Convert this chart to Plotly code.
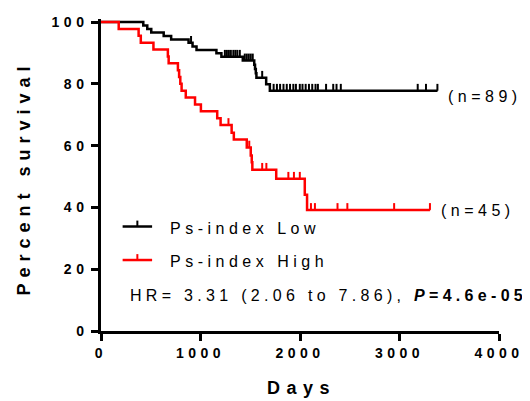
import plotly.graph_objects as go
import numpy as np

# ---------------- data ----------------
low_step_days = [0, 425, 465, 505, 630, 705, 880, 920, 960, 1160, 1210, 1425,
                 1540, 1548, 1556, 1562, 1660, 1697]
low_step_surv = [100, 98.9, 97.8, 96.6, 95.5, 94.4, 93.3, 92.1, 91.0, 89.9, 88.8, 87.6,
                 86.2, 84.8, 83.4, 82.0, 79.9, 77.8]
low_cens_days = [905, 1245, 1265, 1285, 1305, 1330, 1350, 1370, 1395,
                 1445, 1465, 1485, 1505, 1525, 1620,
                 1735, 1768, 1800, 1834, 1867, 1900, 1933, 1959, 1998, 2025, 2057,
                 2090, 2123, 2156, 2180, 2262, 2334, 2367, 2410, 3183, 3266, 3381]

high_step_days = [0, 178, 378, 400, 527, 672, 680, 773, 785, 797, 810, 852, 945,
                  1004, 1168, 1202, 1313, 1335, 1465, 1505, 1515, 1521, 1761, 2048, 2071]
high_step_surv = [100, 97.8, 95.6, 93.3, 91.1, 88.9, 86.7, 84.4, 82.2, 80.0, 77.8, 75.6, 73.3,
                  71.1, 68.9, 66.7, 64.2, 62.0, 59.4, 56.8, 54.6, 52.2, 49.3, 44.1, 39.2]
high_cens_days = [1281, 1490, 1620, 1662, 1883, 1939, 1998, 2110, 2150, 2377, 2476, 2946, 3306]

x_ticks = [0, 1000, 2000, 3000, 4000]
y_ticks = [0, 20, 40, 60, 80, 100]

names = ["Ps-index Low", "Ps-index High"]
n_labels = ["(n=89)", "(n=45)"]
hr_text = "HR= 3.31 (2.06 to 7.86), "
p_text = "=4.6e-05"

# ---------------- layout geometry ----------------
OFF = 8  # page body margin of the browser
FW, FH = 530 - OFF, 401 - OFF
L, R, B, T = 101 - OFF, 24, 70, 14.5 - OFF
PW, PH = FW - L - R, FH - T - B
FONT = "Liberation Sans, Arial, sans-serif"


def px_x(px):  # page pixel -> paper
    return (px - OFF - L) / PW


def px_y(py):
    return (FH - B - (py - OFF)) / PH


def spaced(txt, sp):
    return f'<span style="letter-spacing:{sp}px">{txt}</span>'


def step_at(days, surv, t):
    idx = np.searchsorted(np.asarray(days), t, side="right") - 1
    return float(np.asarray(surv)[idx])


fig = go.Figure()

series = [
    (low_step_days, low_step_surv, low_cens_days, "#000000"),
    (high_step_days, high_step_surv, high_cens_days, "#FF0000"),
]
for days, surv, cens, col in series:
    end = max(cens)
    xs = list(days) + [end]
    ys = list(surv) + [surv[-1]]
    fig.add_trace(go.Scatter(x=xs, y=ys, mode="lines", line=dict(color=col, width=2.5, shape="hv"),
                             showlegend=False, hoverinfo="skip"))
    cy = [step_at(days, surv, t) for t in cens]
    fig.add_trace(go.Scatter(x=cens, y=cy, mode="markers", marker=dict(size=1, color=col),
                             error_y=dict(type="data", symmetric=False, array=[2.2] * len(cens),
                                          arrayminus=[0] * len(cens), width=0, thickness=2, color=col),
                             showlegend=False, hoverinfo="skip"))

tickfont = dict(family=FONT, size=14, color="black")
fig.update_xaxes(range=[0, 4000], tickvals=x_ticks,
                 ticktext=[spaced(f"<b>{v}</b>", 4.5) for v in x_ticks],
                 ticklabeloverflow="allow",
                 showgrid=False, zeroline=False, showline=True, linecolor="black", linewidth=2.5,
                 ticks="outside", ticklen=7, tickwidth=2.5, tickcolor="black", tickfont=tickfont)
fig.update_yaxes(range=[0, 101], tickvals=y_ticks,
                 ticktext=[spaced(f"<b>{v}</b>", 4.5) for v in y_ticks],
                 ticklabeloverflow="allow",
                 showgrid=False, zeroline=False, showline=True, linecolor="black", linewidth=2.5,
                 ticks="outside", ticklen=7, tickwidth=2.5, tickcolor="black", tickfont=tickfont)

ann = []
ann.append(dict(text=spaced("<b>Days</b>", 6.5), x=px_x(305), y=px_y(389), xref="paper", yref="paper",
                xanchor="center", yanchor="middle", showarrow=False,
                font=dict(family=FONT, size=18, color="black")))
ann.append(dict(text=spaced("<b>Percent survival</b>", 6), x=px_x(23), y=px_y(176), xref="paper",
                yref="paper", xanchor="center", yanchor="middle", textangle=-90, showarrow=False,
                font=dict(family=FONT, size=18, color="black")))
ann.append(dict(text=spaced(n_labels[0], 4.5), x=px_x(452), y=px_y(93), xref="paper", yref="paper",
                xanchor="left", yanchor="middle", showarrow=False,
                font=dict(family=FONT, size=16, color="black")))
ann.append(dict(text=spaced(n_labels[1], 4.5), x=px_x(445), y=px_y(209), xref="paper", yref="paper",
                xanchor="left", yanchor="middle", showarrow=False,
                font=dict(family=FONT, size=16, color="black")))
ann.append(dict(text=spaced(names[0], 4.5), x=px_x(169), y=px_y(227), xref="paper", yref="paper",
                xanchor="left", yanchor="middle", showarrow=False,
                font=dict(family=FONT, size=16, color="black")))
ann.append(dict(text=spaced(names[1], 4.5), x=px_x(169), y=px_y(261), xref="paper", yref="paper",
                xanchor="left", yanchor="middle", showarrow=False,
                font=dict(family=FONT, size=16, color="black")))
ann.append(dict(text=spaced(hr_text + "<b><i>P</i>" + p_text + "</b>", 4.3), x=px_x(128), y=px_y(295),
                xref="paper", yref="paper", xanchor="left", yanchor="middle", showarrow=False,
                font=dict(family=FONT, size=16, color="black")))

shapes = []
for py, col in [(225, "#000000"), (259, "#FF0000")]:
    shapes.append(dict(type="line", xref="paper", yref="paper", x0=px_x(123), x1=px_x(153),
                       y0=px_y(py), y1=px_y(py), line=dict(color=col, width=2.5)))
    shapes.append(dict(type="line", xref="paper", yref="paper", x0=px_x(138), x1=px_x(138),
                       y0=px_y(py), y1=px_y(py - 6), line=dict(color=col, width=2)))

fig.update_layout(width=FW, height=FH, margin=dict(l=L, r=R, t=T, b=B, pad=0),
                  plot_bgcolor="white", paper_bgcolor="white", annotations=ann, shapes=shapes,
                  showlegend=False)

fig.write_html("out.html")
